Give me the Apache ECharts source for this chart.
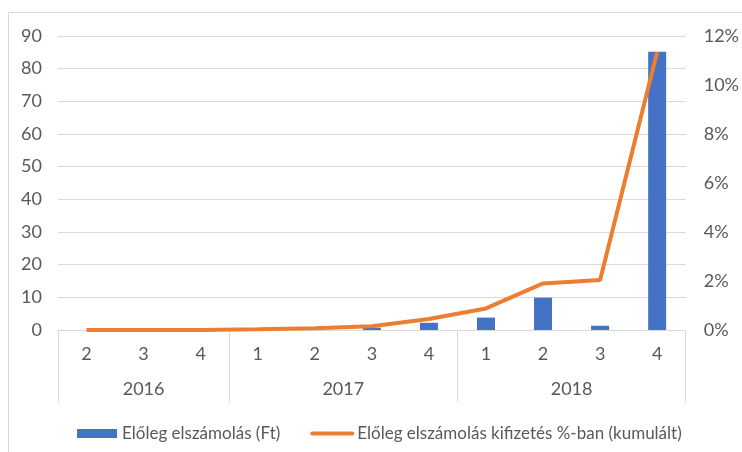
<!DOCTYPE html>
<html>
<head>
<meta charset="utf-8">
<script src="https://cdn.jsdelivr.net/npm/echarts@6/dist/echarts.min.js"></script>
<style>
  html, body { margin: 0; padding: 0; background: #fff; }
  #main { width: 742px; height: 452px; }
</style>
</head>
<body>
<div id="main"></div>
<script>
// negyedevek es evek
var quarters = ['2', '3', '4', '1', '2', '3', '4', '1', '2', '3', '4']
var years = ['2016', '2017', '2018']
var yearPos = [1.5, 5, 9]          // evcimke kozepe (kategoria egysegben)
var yearBounds = [0, 3, 7, 11]     // elvalaszto vonalak

// adatok
var advanceValues = [0, 0, 0, 0.2, 0.4, 0.7, 2.2, 3.8, 9.9, 1.3, 85.2]
var cumulativePct = [0, 0, 0, 0.03, 0.07, 0.15, 0.45, 0.88, 1.9, 2.04, 11.35]

var barName = 'Előleg elszámolás (Ft)'
var lineName = 'Előleg elszámolás kifizetés %-ban (kumulált)'

var txt = '#595959'
var gridLine = '#d9d9d9'
var font = 'Lato, "Liberation Sans", sans-serif'

var chart = echarts.init(document.getElementById('main'))
chart.setOption({
  animation: false,
  backgroundColor: '#fff',
  textStyle: { fontFamily: font, color: txt },
  graphic: [{
    type: 'rect',
    shape: { x: 8.5, y: 12.5, width: 900, height: 600 },
    style: { fill: 'none', stroke: gridLine, lineWidth: 1 },
    silent: true
  }],
  grid: { left: 58, right: 52, top: 36, bottom: 122 },
  legend: {
    left: 72,
    top: 420,
    itemGap: 30,
    itemWidth: 40,
    itemHeight: 9,
    textStyle: { fontFamily: font, fontSize: 17, color: txt },
    data: [
      { name: barName, icon: 'rect' },
      { name: lineName, itemStyle: { color: 'rgba(0,0,0,0)', borderWidth: 0 }, lineStyle: { width: 4, cap: 'round' } }
    ]
  },
  xAxis: [{
    type: 'category',
    data: quarters,
    position: 'bottom',
    axisLine: { lineStyle: { color: gridLine, width: 1 } },
    axisTick: { show: false },
    axisLabel: { color: txt, fontSize: 18, fontFamily: font, margin: 15, interval: 0 }
  }, {
    // evek: ertektengely, hogy az elvalasztok a csoporthatarokra essenek
    type: 'value',
    min: 0,
    max: 11,
    position: 'bottom',
    axisLine: { show: false },
    splitLine: { show: false },
    axisTick: {
      show: true,
      customValues: yearBounds,
      length: 72,
      lineStyle: { color: gridLine, width: 1 }
    },
    axisLabel: {
      customValues: yearPos,
      color: txt,
      fontSize: 18,
      fontFamily: font,
      margin: 50,
      formatter: function (v) {
        var i = yearPos.indexOf(v)
        return i >= 0 ? years[i] : ''
      }
    }
  }],
  yAxis: [{
    type: 'value',
    min: 0,
    max: 90,
    interval: 10,
    axisLine: { show: false },
    axisTick: { show: false },
    splitLine: { lineStyle: { color: gridLine, width: 1 } },
    axisLabel: { color: txt, fontSize: 18, fontFamily: font, margin: 16 }
  }, {
    type: 'value',
    min: 0,
    max: 12,
    interval: 2,
    position: 'right',
    axisLine: { show: false },
    axisTick: { show: false },
    splitLine: { show: false },
    axisLabel: {
      color: txt, fontSize: 18, fontFamily: font, margin: 18,
      formatter: function (v) { return v + '%' }
    }
  }],
  series: [{
    name: barName,
    type: 'bar',
    xAxisIndex: 0,
    yAxisIndex: 0,
    barWidth: 18,
    itemStyle: { color: '#4472C4' },
    data: advanceValues
  }, {
    name: lineName,
    type: 'line',
    xAxisIndex: 0,
    yAxisIndex: 1,
    symbol: 'none',
    z: 5,
    lineStyle: { color: '#ED7D31', width: 4 },
    itemStyle: { color: '#ED7D31' },
    data: cumulativePct
  }]
})
</script>
</body>
</html>
